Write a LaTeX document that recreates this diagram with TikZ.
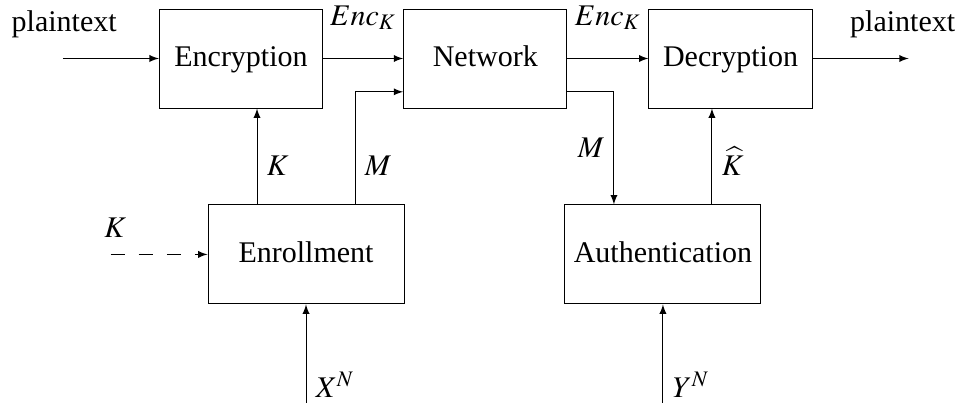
\documentclass[12pt,tikz,border=0pt]{standalone}
\usepackage{mathptmx}
\usepackage{fontspec}
\setmainfont{Liberation Serif}
\usepackage{tikz}
\usetikzlibrary{arrows, positioning}

\begin{document}
\begin{tikzpicture}[node distance=1.2cm, auto, font=\fontsize{12.8}{15}\selectfont]
\tikzstyle{block} = [rectangle, minimum width=2.45cm, minimum height=1.485cm, text centered, draw=black, inner sep=0pt, text height=0.8em, text depth=0.25em]
\tikzstyle{wideblock} = [block, minimum width=2.94cm]
\tikzstyle{arrow} = [->,>=latex]
\tikzstyle{dasharrow} = [arrow, dash pattern=on 6pt off 6pt]

\useasboundingbox (0,0) rectangle (14.355,-6.045);

\node (enc) [block] at (3.615,-0.8775) {Encryption};
\node (net) [block, right=1.2cm of enc] {Network};
\node (dec) [block, right=1.215cm of net] {Decryption};
\node (enr) [wideblock, below=1.44cm of enc, xshift=0.975cm] {Enrollment};
\node (auth) [wideblock, right=2.4cm of enr] {Authentication};

\coordinate [left=1.44cm of enc.west] (pin);
\coordinate [right=1.44cm of dec.east] (pout);
\coordinate [left=1.455cm of enr.west] (kin);
\coordinate [below=1.5cm of enr.south] (xin);
\coordinate [below=1.5cm of auth.south] (yin);

\node (pinlbl) [above=0.16cm of pin, xshift=0.02cm] {plaintext};
\node (poutlbl) [above=0.16cm of pout, xshift=-0.09cm] {plaintext};
\node (kinlbl) [above=0.1cm of kin, xshift=0.07cm] {$K$};

\draw [arrow] (pin) -- (enc);
\draw [arrow] (enc) -- node[above=0.28cm] {$Enc_K$} (net);
\draw [arrow] (net) -- node[above=0.28cm] {$Enc_K$} (dec);
\draw [arrow] (dec) -- (pout);
\draw [dasharrow] (kin) -- (enr);
\draw [arrow] ([xshift=-0.735cm]enr.north) -- node[right, pos=0.4] {$K$} ([xshift=-0.735cm]enr.north |- enc.south);
\draw [arrow] ([xshift=0.735cm]enr.north) |- node[right, pos=0.17] {$M$} ([yshift=-0.5cm]net.west);
\draw [arrow] ([yshift=-0.5cm]net.east) -| node[left, pos=0.75] {$M$} ([xshift=-0.735cm]auth.north);
\draw [arrow] ([xshift=0.735cm]auth.north) -- node[right, pos=0.45] {$\widehat{K}$} ([xshift=0.735cm]auth.north |- dec.south);
\draw [arrow] (xin) -- node[right, pos=0.2] {$X^N$} (enr);
\draw [arrow] (yin) -- node[right, pos=0.2] {$Y^N$} (auth);
\end{tikzpicture}
\end{document}
